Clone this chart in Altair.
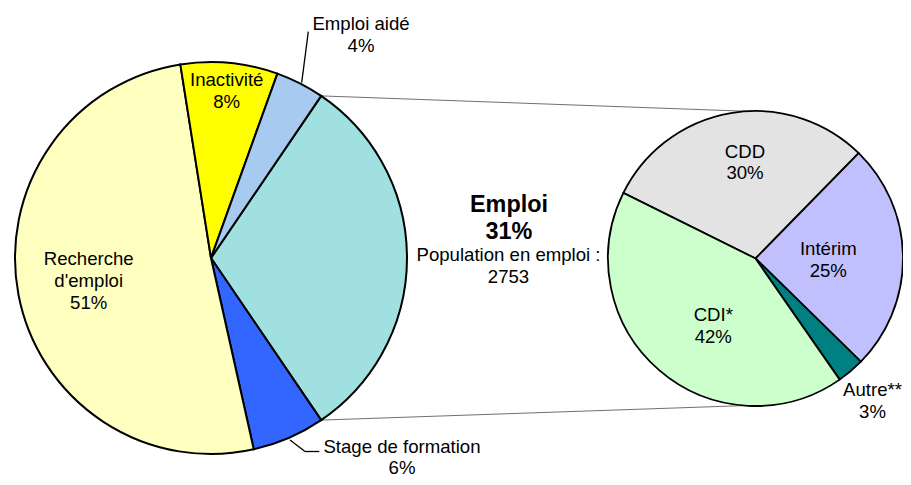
import math
import altair as alt
import pandas as pd

# ---------------- data ----------------
main_cats = ["Emploi", "Stage de formation", "Recherche d'emploi", "Inactivité", "Emploi aidé"]
main_vals = [31, 6, 51, 8, 4]
main_label_names = ["", "Stage de formation", "Recherche\nd'emploi", "Inactivité", "Emploi aidé"]
main_colors = ["#A0E0E0", "#3366FF", "#FFFFC0", "#FFFF00", "#A6CAF0"]

sub_cats = ["CDD", "Intérim", "Autre**", "CDI*"]
sub_vals = [30, 25, 3, 42]
sub_colors = ["#E3E3E3", "#C0C0FF", "#008080", "#CCFFCC"]

population = 2753
center_title = "Emploi"
center_sub = "Population en emploi :"

# ---------------- layout (page px) ----------------
M = 8  # page margin
W, H = 911 - 2 * M, 485 - 2 * M
FONT = "Liberation Sans"
FS = 18.6
LH = 21.7

C1 = (211 - M, 258 - M)
R1 = 196
START1 = 34.2          # degrees, clockwise from north
C2 = (755.5 - M, 258.5 - M)
R2 = 147.5
START2 = -63.6

# first-line centres of the label blocks (page coords)
main_label_pos = {
    "Stage de formation": (402, 446.5),
    "Recherche d'emploi": (88.7, 259.3),
    "Inactivité": (226.7, 80),
    "Emploi aidé": (361, 24.3),
}
sub_label_pos = {
    "CDD": (745, 151.7),
    "Intérim": (828.3, 249.3),
    "Autre**": (872.5, 390),
    "CDI*": (713.3, 315),
}

# ---------------- tables ----------------
df1 = pd.DataFrame({"cat": main_cats, "value": main_vals, "idx": range(len(main_cats))})
df2 = pd.DataFrame({"cat": sub_cats, "value": sub_vals, "idx": range(len(sub_cats))})

labels = []
for c, v, n in zip(main_cats, main_vals, main_label_names):
    if c in main_label_pos:
        x, y = main_label_pos[c]
        labels.append({"x": x - M, "y": y - M, "t": f"{n}\n{v}%"})
for c, v in zip(sub_cats, sub_vals):
    x, y = sub_label_pos[c]
    labels.append({"x": x - M, "y": y - M, "t": f"{c}\n{v}%"})
lab_df = pd.DataFrame(labels)

emp_val = main_vals[main_cats.index("Emploi")]
bold_df = pd.DataFrame({"x": [509 - M], "y": [205 - M], "t": [f"{center_title}\n{emp_val}%"]})
norm_df = pd.DataFrame({"x": [508.5 - M], "y": [255 - M], "t": [f"{center_sub}\n{population}"]})

# connectors from the split slice edges to the secondary pie
tot1 = sum(main_vals)
a_start = math.radians(START1)
a_end = math.radians(START1 + 360 * emp_val / tot1)
p_top = (C1[0] + R1 * math.sin(a_start), C1[1] - R1 * math.cos(a_start))
p_bot = (C1[0] + R1 * math.sin(a_end), C1[1] - R1 * math.cos(a_end))
conn_df = pd.DataFrame({
    "x": [p_top[0], p_bot[0]],
    "y": [p_top[1], p_bot[1]],
    "x2": [C2[0] - 2, C2[0] - 8],
    "y2": [C2[1] - R2 + 0.5, C2[1] + R2 - 0.5],
})

stage_y = main_label_pos["Stage de formation"][1] + 5
lead_df = pd.DataFrame({
    "x": [308.3 - M, 290 - M, 305 - M],
    "y": [31.7 - M, 440 - M, stage_y - M],
    "x2": [301.7 - M, 305 - M, 319.3 - M],
    "y2": [82.7 - M, stage_y - M, stage_y - M],
})

# ---------------- marks ----------------
def pie(df, cats, colors, center, radius, start, sw):
    s = math.radians(start)
    return alt.Chart(df).mark_arc(radius=radius, stroke="black", strokeWidth=sw).encode(
        theta=alt.Theta("value:Q", stack=True,
                        scale=alt.Scale(domain=[0, float(df["value"].sum())], range=[s, s + 2 * math.pi])),
        color=alt.Color("cat:N", scale=alt.Scale(domain=cats, range=colors), legend=None),
        order=alt.Order("idx:Q"),
        x=alt.value(center[0]),
        y=alt.value(center[1]),
    )

pie1 = pie(df1, main_cats, main_colors, C1, R1, START1, 2)
pie2 = pie(df2, sub_cats, sub_colors, C2, R2, START2, 1.8)

conn = alt.Chart(conn_df).mark_rule(color="#707070", strokeWidth=1).encode(
    x=alt.X("x:Q", scale=None), y=alt.Y("y:Q", scale=None),
    x2="x2:Q", y2="y2:Q")
lead = alt.Chart(lead_df).mark_rule(color="black", strokeWidth=1.3).encode(
    x=alt.X("x:Q", scale=None), y=alt.Y("y:Q", scale=None),
    x2="x2:Q", y2="y2:Q")

def txt(df, size, weight, lh):
    return alt.Chart(df).mark_text(font=FONT, fontSize=size, fontWeight=weight, color="black",
                                   lineBreak="\n", lineHeight=lh, align="center",
                                   baseline="middle").encode(
        x=alt.X("x:Q", scale=None), y=alt.Y("y:Q", scale=None), text="t:N")

chart = alt.layer(
    conn, pie1, pie2, lead,
    txt(lab_df, FS, "normal", LH),
    txt(bold_df, 23.4, "bold", 26.7),
    txt(norm_df, FS, "normal", LH),
).resolve_scale(theta="independent", color="independent").properties(
    width=W, height=H, padding=0, autosize=alt.AutoSizeParams(type="none"),
    background="white",
).configure_view(stroke=None)

chart.save("out.html", embed_options={"renderer": "svg", "actions": False})
